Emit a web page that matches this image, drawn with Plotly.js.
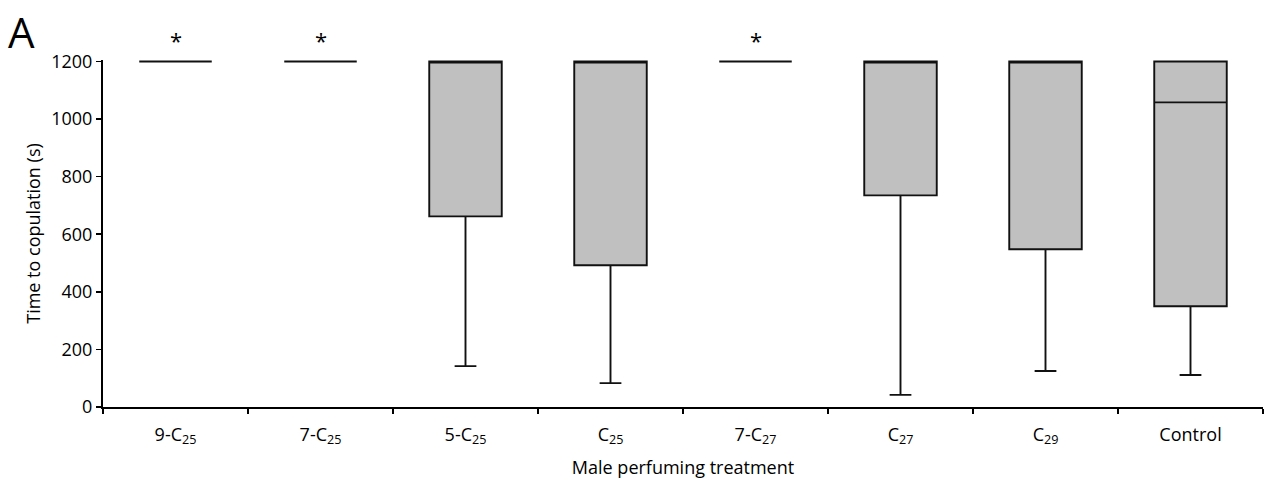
<!DOCTYPE html>
<html><head><meta charset="utf-8">
<script src="https://cdn.plot.ly/plotly-3.0.1.min.js"></script>
<style>body{margin:0;background:#fff}#chart{width:1270px;height:484px}</style>
</head><body><div id="chart"></div>
<script>
const categories = ["9-C<sub>25</sub>","7-C<sub>25</sub>","5-C<sub>25</sub>","C<sub>25</sub>","7-C<sub>27</sub>","C<sub>27</sub>","C<sub>29</sub>","Control"];
const lowerWhisker = [1200,1200,142,83,1200,42,125,111];
const q1Values     = [1200,1200,662,492,1200,735,548,350];
const medianValues = [1200,1200,1200,1200,1200,1200,1200,1058];
const q3Values     = [1200,1200,1200,1200,1200,1200,1200,1200];
const upperWhisker = [1200,1200,1200,1200,1200,1200,1200,1200];
const significant  = ["9-C<sub>25</sub>","7-C<sub>25</sub>","7-C<sub>27</sub>"];

const font = "Open Sans, Noto Sans, sans-serif";
const trace = {
  type: "box",
  x: categories,
  q1: q1Values, median: medianValues, q3: q3Values,
  lowerfence: lowerWhisker, upperfence: upperWhisker,
  fillcolor: "#c0c0c0",
  line: {color: "#111", width: 1.9},
  whiskerwidth: 0.3,
  width: 0.5,
  boxpoints: false,
  hoverinfo: "skip",
  showlegend: false
};
const annotations = significant.map(c => ({
  x: c, y: 1.0, xref: "x", yref: "paper", yanchor: "middle", yshift: 20,
  text: "*", showarrow: false, font: {family: font, size: 22, color: "#000"}
}));
annotations.push({x: 0.0, y: 1.0, xref: "paper", yref: "paper", xanchor: "left", yanchor: "top",
  xshift: -97, yshift: 59, text: "A", showarrow: false, font: {family: font, size: 42, color: "#000"}});

const layout = {
  width: 1270, height: 484,
  margin: {l: 103, r: 7, t: 60, b: 77},
  paper_bgcolor: "#fff", plot_bgcolor: "#fff",
  font: {family: font, size: 18, color: "#000"},
  xaxis: {
    type: "category", range: [-0.5, 7.5], tickson: "boundaries", ticks: "outside", ticklen: 5, tickwidth: 1.5,
    tickcolor: "#000", showline: true, linecolor: "#000", linewidth: 2, showgrid: false,
    tickfont: {family: font, size: 18}, ticklabelstandoff: 10,
    title: {text: "Male perfuming treatment", font: {family: font, size: 18}, standoff: 14}
  },
  yaxis: {
    range: [0, 1205], tickvals: [0,200,400,600,800,1000,1200], ticks: "outside", ticklen: 5,
    tickwidth: 1.5, tickcolor: "#000", showline: true, linecolor: "#000", linewidth: 2,
    showgrid: false, zeroline: false, tickfont: {family: font, size: 18},
    title: {text: "Time to copulation (s)", font: {family: font, size: 18}, standoff: 6}
  },
  annotations: annotations
};
Plotly.newPlot("chart", [trace], layout, {displayModeBar: false, staticPlot: true});
</script></body></html>
